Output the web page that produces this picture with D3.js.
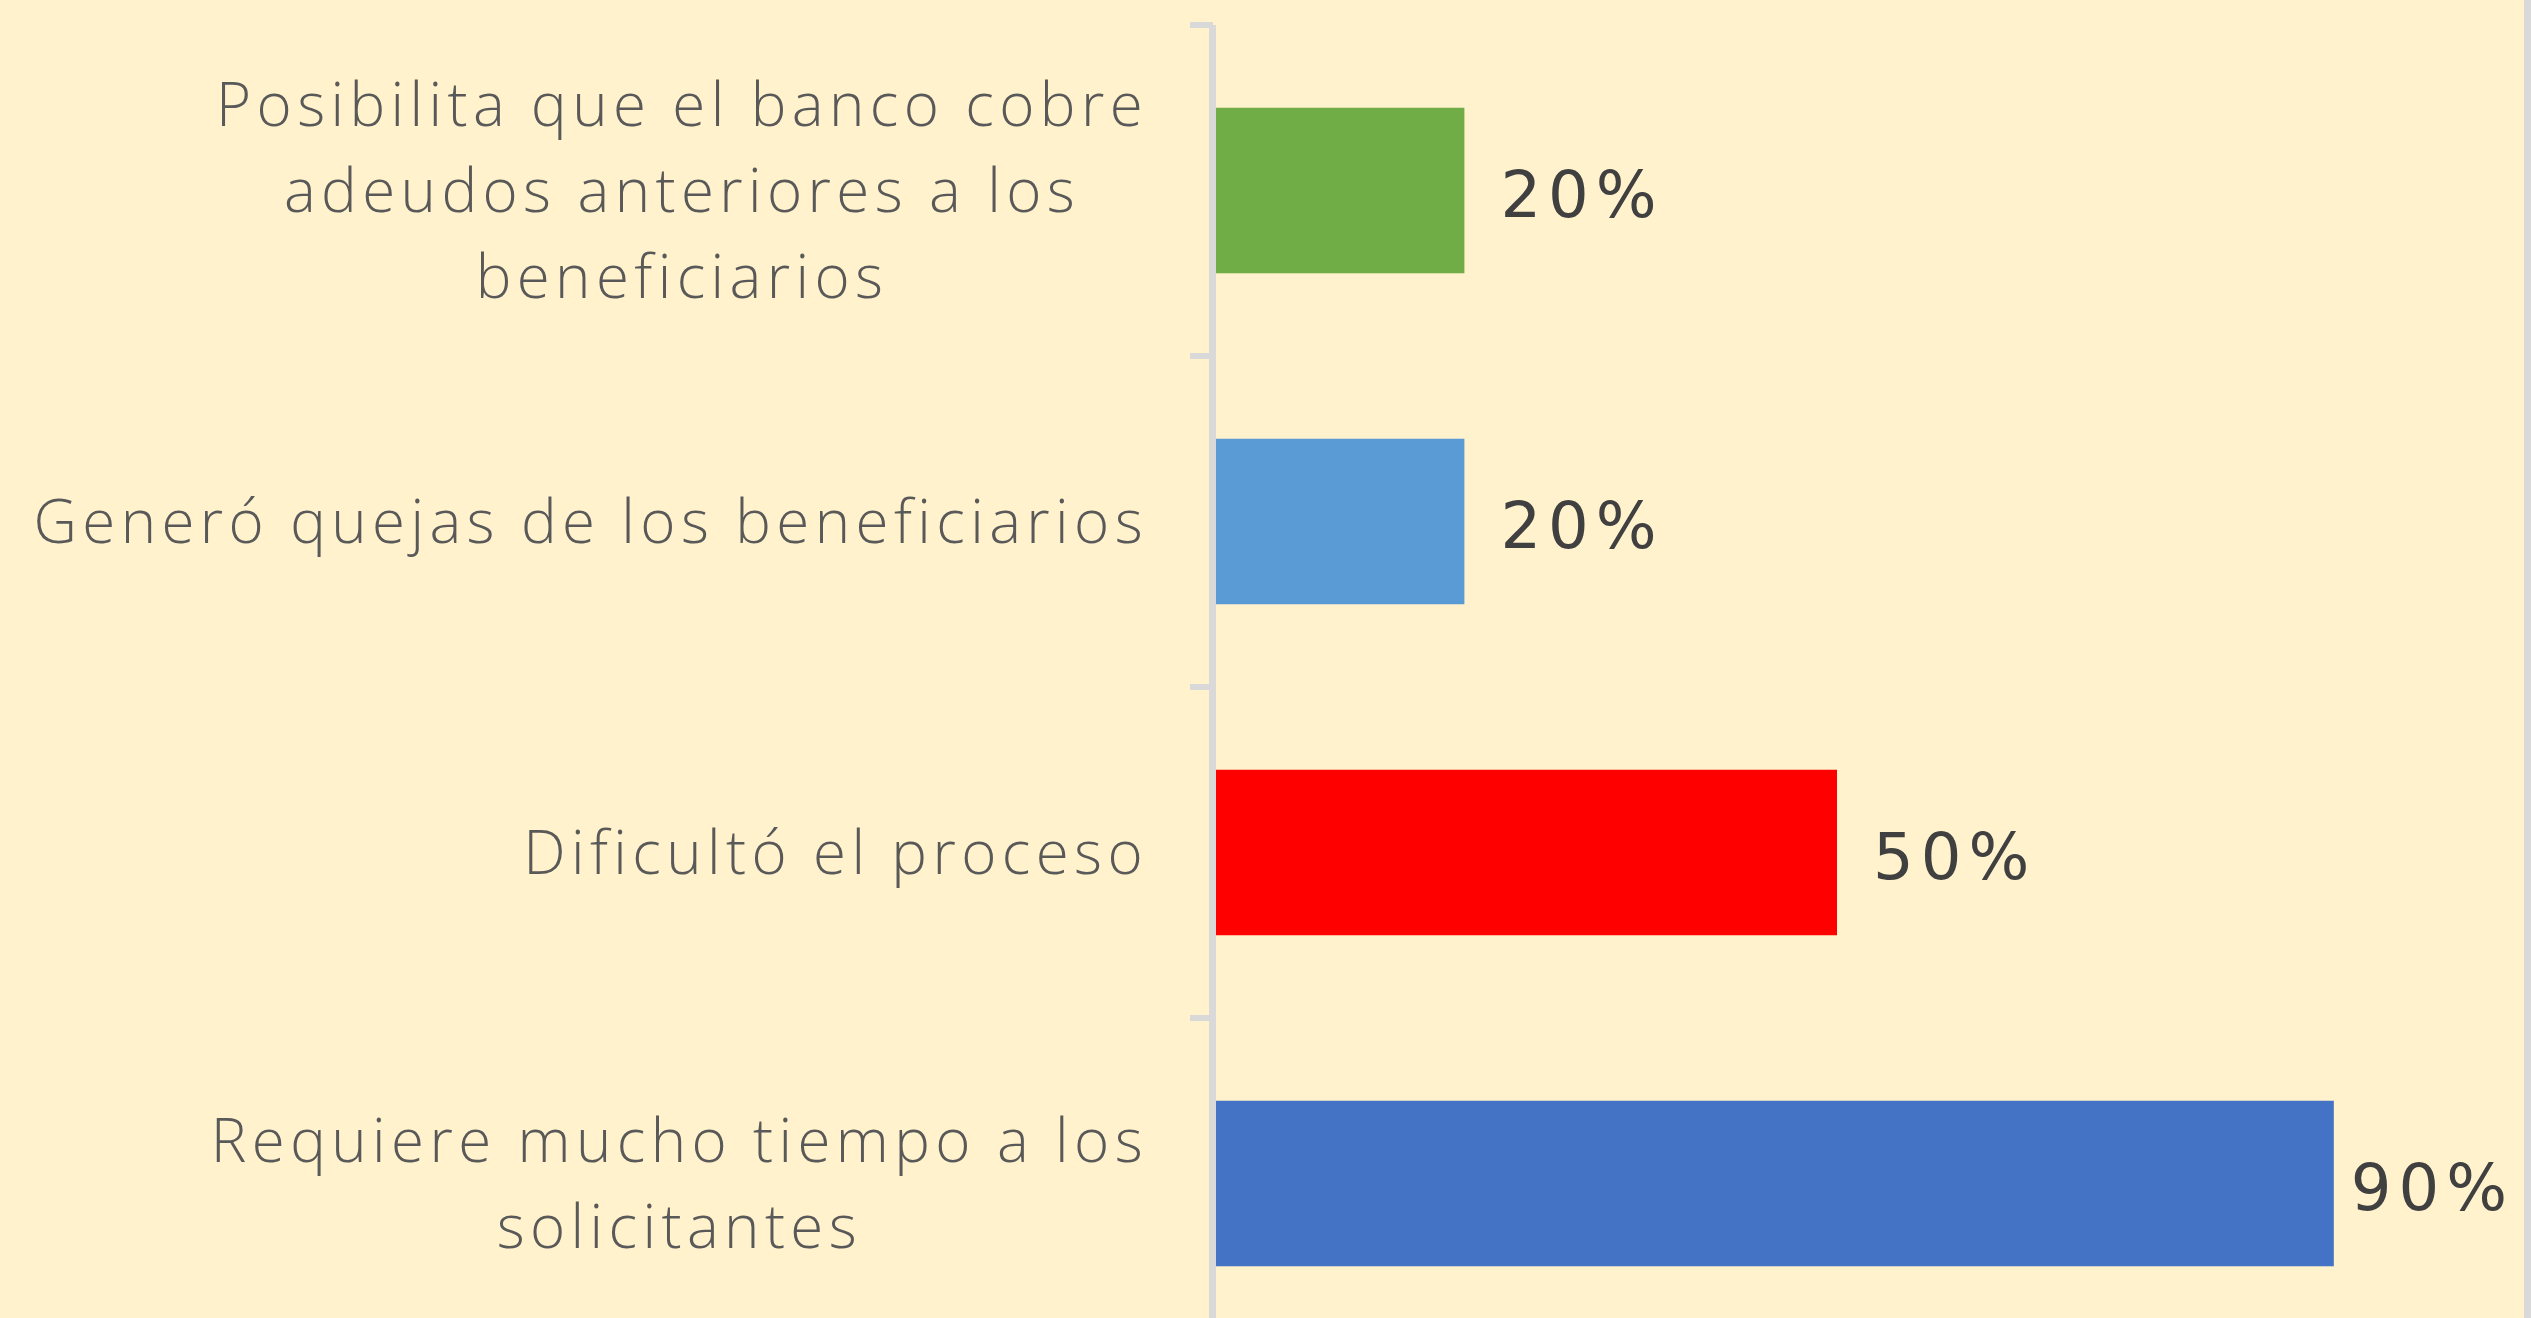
<!DOCTYPE html>
<html lang="es">
<head>
  <meta charset="UTF-8">
  <title>Dificultades</title>
  <script src="https://d3js.org/d3.v7.min.js"></script>
  <style>
    html, body {
      margin: 0;
      padding: 0;
      background: #fff2cc;
      overflow: hidden;
    }
    .cat text {
      font-family: "Open Sans", sans-serif;
      font-weight: 300;
      font-size: 60px;
      letter-spacing: 5.4px;
      fill: #595959;
    }
    .val {
      font-family: "DejaVu Sans", sans-serif;
      font-size: 64px;
      letter-spacing: 7px;
      fill: #404040;
    }
  </style>
</head>
<body>
  <div id="chart"></div>

  <script>
    const categorias = [
      ["Posibilita que el banco cobre", "adeudos anteriores a los", "beneficiarios"],
      ["Generó quejas de los beneficiarios"],
      ["Dificultó el proceso"],
      ["Requiere mucho tiempo a los", "solicitantes"]
    ];
    const valores = [20, 20, 50, 90];
    const colores = ["#70ad47", "#5b9bd5", "#ff0000", "#4472c4"];

    const width = 2531, height = 1318;
    const bandH = 331, arriba = 25;

    const svg = d3.select("#chart")
      .append("svg")
      .attr("width", width)
      .attr("height", height);

    svg.append("rect")
      .attr("width", width).attr("height", height)
      .attr("fill", "#fff2cc");

    // borde derecho
    svg.append("rect")
      .attr("x", 2524).attr("y", 0)
      .attr("width", 7).attr("height", height)
      .attr("fill", "#d9d9d9");

    const y = d3.scaleBand()
      .domain(d3.range(valores.length))
      .range([arriba, arriba + bandH * valores.length])
      .paddingInner(0.5)
      .paddingOuter(0.25);

    const x = d3.scaleLinear()
      .domain([0, 100])
      .range([1216, 1216 + 1242]);

    // eje vertical con marcas entre categorías
    svg.append("line")
      .attr("x1", 1212.5).attr("x2", 1212.5)
      .attr("y1", arriba).attr("y2", height)
      .attr("stroke", "#d9d9d9").attr("stroke-width", 7);

    svg.selectAll("line.tick")
      .data(d3.range(valores.length + 1))
      .enter().append("line")
      .attr("class", "tick")
      .attr("x1", 1190).attr("x2", 1213)
      .attr("y1", d => arriba + d * bandH)
      .attr("y2", d => arriba + d * bandH)
      .attr("stroke", "#d9d9d9").attr("stroke-width", 6);

    svg.selectAll("rect.bar")
      .data(valores)
      .enter().append("rect")
      .attr("class", "bar")
      .attr("x", x(0))
      .attr("y", (d, i) => y(i))
      .attr("width", d => x(d) - x(0))
      .attr("height", y.bandwidth())
      .attr("fill", (d, i) => colores[i]);

    svg.selectAll("text.val")
      .data(valores)
      .enter().append("text")
      .attr("class", "val")
      .attr("x", d => x(d) + 36)
      .attr("y", (d, i) => y(i) + y.bandwidth() / 2)
      .attr("dy", "0.42em")
      .text(d => d + "%")
      .each(function () {
        const w = this.getComputedTextLength();
        const x0 = +this.getAttribute("x");
        if (x0 + w > 2514) this.setAttribute("x", 2514 - w);
      });

    // etiquetas: bloque alineado a la derecha, líneas centradas
    const derecha = 1148, lineH = 86;
    const cat = svg.selectAll("g.cat")
      .data(categorias)
      .enter().append("g")
      .attr("class", "cat");

    cat.each(function (lineas, i) {
      const g = d3.select(this);
      const cy = y(i) + y.bandwidth() / 2;
      const t = g.selectAll("text")
        .data(lineas)
        .enter().append("text")
        .attr("text-anchor", "middle")
        .attr("y", (d, k) => cy + (k - (lineas.length - 1) / 2) * lineH)
        .attr("dy", "0.36em")
        .text(d => d);
      let maxW = 0;
      t.each(function () { maxW = Math.max(maxW, this.getComputedTextLength()); });
      t.attr("x", derecha - maxW / 2);
    });
  </script>
</body>
</html>
